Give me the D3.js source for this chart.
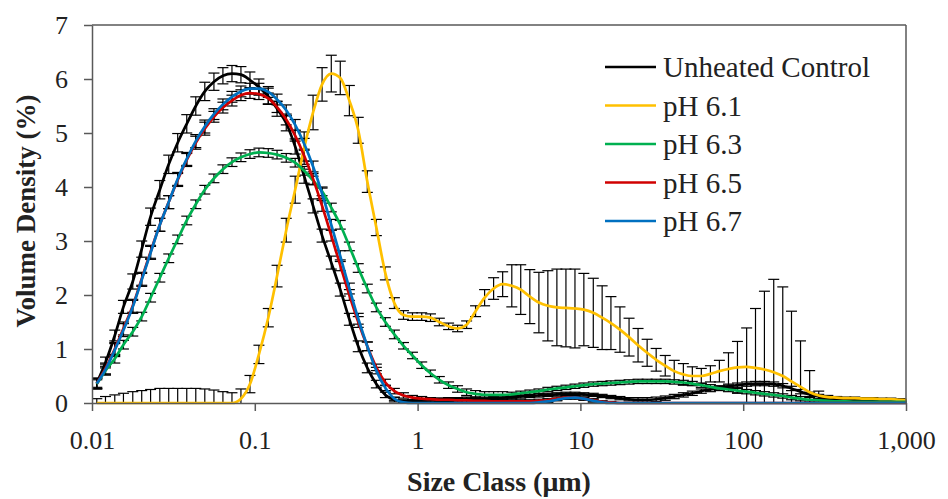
<!DOCTYPE html>
<meta charset="utf-8">
<head>
    <title>Volume Density by Size Class</title>
    <script type="text/javascript" src="https://d3js.org/d3.v7.min.js"></script>
    <style type="text/css">
        body { margin: 0; background: #ffffff; }
        svg text { font-family: "Liberation Serif", "Times New Roman", serif; fill: #222222; }
    </style>
</head>
<body>
    <div id="chart"></div>
    <script>
        // size classes (um), class midpoints
        var sizes = [0.0107,0.0121,0.0138,0.0156,0.0178,0.0202,0.0229,0.0261,0.0296,0.0336,
            0.0382,0.0434,0.0493,0.0561,0.0637,0.0724,0.0822,0.0934,0.106,0.121,
            0.137,0.156,0.177,0.201,0.228,0.259,0.295,0.335,0.381,0.432,
            0.491,0.558,0.634,0.720,0.819,0.930,1.06,1.20,1.36,1.55,
            1.76,2.00,2.27,2.58,2.93,3.33,3.79,4.30,4.89,5.56,
            6.31,7.17,8.15,9.26,10.5,12.0,13.6,15.4,17.5,19.9,
            22.6,25.7,29.2,33.2,37.7,42.9,48.7,55.3,62.9,71.4,
            81.2,92.2,105,119,135,154,175,198,225,256,
            291,331,376,427,485,551,626,711,808,918,1043];

        var seriesNames = ["Unheated Control", "pH 6.1", "pH 6.3", "pH 6.5", "pH 6.7"];
        var seriesColors = ["#000000", "#FFC000", "#00B050", "#D00000", "#0070C0"];

        var control = [0.37,0.75,1.25,1.78,2.25,2.85,3.45,3.95,4.42,4.82,
            5.17,5.5,5.77,5.95,6.06,6.1,6.08,5.98,5.85,5.68,
            5.45,5.18,4.75,4.2,3.65,3.1,2.6,2.1,1.55,1.05,
            0.65,0.35,0.15,0.06,0.03,0.03,0.04,0.05,0.06,0.07,
            0.07,0.08,0.08,0.08,0.09,0.1,0.11,0.12,0.13,0.14,
            0.15,0.16,0.17,0.17,0.16,0.15,0.13,0.11,0.09,0.07,
            0.06,0.06,0.07,0.09,0.12,0.15,0.18,0.22,0.25,0.28,
            0.31,0.33,0.35,0.36,0.36,0.35,0.32,0.27,0.21,0.16,
            0.12,0.09,0.07,0.05,0.04,0.03,0.02,0.02,0.01,0.01,0.01];
        var controlErr = [0.08,0.1,0.1,0.12,0.14,0.15,0.16,0.17,0.17,0.17,
            0.17,0.17,0.17,0.16,0.15,0.15,0.15,0.15,0.15,0.15,
            0.14,0.14,0.14,0.13,0.13,0.12,0.12,0.12,0.11,0.1,
            0.09,0.07,0.05,0.04,0.03,0.03,0.03,0.03,0.03,0.03,
            0.03,0.03,0.03,0.03,0.03,0.03,0.03,0.03,0.03,0.03,
            0.03,0.03,0.03,0.03,0.03,0.03,0.03,0.03,0.03,0.03,
            0.04,0.04,0.04,0.04,0.04,0.04,0.04,0.04,0.04,0.04,
            0.04,0.04,0.04,0.04,0.04,0.04,0.04,0.04,0.04,0.04,
            0.04,0.02,0.02,0.02,0.02,0.02,0.02,0.02,0.02,0.02,0.02];

        var ph61 = [0,0,0,0,0,0,0,0,0,0,
            0,0,0,0,0,0,0.08,0.35,0.9,1.58,
            2.35,3.2,3.95,4.72,5.38,5.9,6.1,6.02,5.6,5.05,
            4.1,3.25,2.4,1.85,1.63,1.6,1.6,1.58,1.5,1.42,
            1.38,1.45,1.7,1.95,2.12,2.2,2.17,2.1,1.97,1.86,
            1.8,1.77,1.76,1.75,1.73,1.67,1.58,1.48,1.36,1.22,
            1.07,0.93,0.8,0.69,0.59,0.53,0.5,0.5,0.54,0.59,
            0.63,0.66,0.67,0.65,0.62,0.57,0.5,0.4,0.3,0.2,
            0.14,0.11,0.1,0.09,0.09,0.08,0.08,0.07,0.07,0.06,0.05];
        var ph61Err = [0.08,0.12,0.15,0.18,0.21,0.23,0.25,0.27,0.27,0.27,
            0.27,0.27,0.26,0.24,0.21,0.19,0.18,0.16,0.17,0.17,
            0.2,0.22,0.25,0.3,0.32,0.31,0.34,0.31,0.28,0.24,
            0.2,0.15,0.12,0.1,0.08,0.07,0.07,0.07,0.07,0.06,
            0.06,0.07,0.1,0.15,0.2,0.23,0.39,0.46,0.5,0.56,
            0.65,0.71,0.72,0.73,0.67,0.64,0.59,0.49,0.42,0.35,
            0.31,0.25,0.21,0.19,0.2,0.2,0.17,0.14,0.15,0.2,
            0.3,0.48,0.72,1.1,1.45,1.72,1.65,1.3,0.85,0.4,
            0.08,0.03,0.02,0.02,0.02,0.02,0.02,0.02,0.02,0.02,0.02];

        var ph63 = [0.35,0.6,0.82,1.08,1.32,1.6,1.95,2.32,2.68,3.03,
            3.38,3.68,3.95,4.16,4.33,4.46,4.55,4.61,4.64,4.63,
            4.6,4.54,4.45,4.3,4.12,3.92,3.62,3.3,2.9,2.5,
            2.12,1.77,1.5,1.27,1.06,0.88,0.7,0.55,0.43,0.33,
            0.26,0.2,0.17,0.15,0.15,0.15,0.16,0.18,0.2,0.22,
            0.25,0.27,0.29,0.31,0.33,0.35,0.36,0.37,0.38,0.39,
            0.4,0.4,0.4,0.4,0.39,0.38,0.36,0.33,0.3,0.27,
            0.25,0.23,0.21,0.19,0.17,0.15,0.13,0.1,0.08,0.06,
            0.05,0.04,0.03,0.03,0.02,0.02,0.02,0.02,0.02,0.02,0.02];
        var ph63Err = [0.08,0.08,0.08,0.08,0.08,0.08,0.08,0.08,0.08,0.08,
            0.08,0.08,0.08,0.08,0.08,0.08,0.08,0.08,0.08,0.08,
            0.08,0.08,0.08,0.08,0.08,0.08,0.08,0.08,0.08,0.08,
            0.08,0.08,0.08,0.08,0.06,0.06,0.06,0.06,0.06,0.06,
            0.06,0.06,0.06,0.06,0.06,0.06,0.04,0.04,0.04,0.04,
            0.04,0.04,0.04,0.04,0.04,0.04,0.04,0.04,0.04,0.04,
            0.04,0.04,0.04,0.04,0.04,0.04,0.04,0.04,0.04,0.04,
            0.04,0.04,0.04,0.04,0.04,0.04,0.04,0.04,0.04,0.04,
            0.03,0.03,0.03,0.03,0.02,0.02,0.02,0.02,0.02,0.02,0.02];

        var ph65 = [0.36,0.64,1.0,1.38,1.8,2.3,2.8,3.3,3.72,4.13,
            4.5,4.82,5.08,5.3,5.47,5.6,5.7,5.74,5.72,5.64,
            5.48,5.25,4.95,4.58,4.15,3.65,3.1,2.55,2.0,1.5,
            1.05,0.66,0.38,0.22,0.14,0.1,0.08,0.07,0.06,0.06,
            0.05,0.05,0.04,0.04,0.03,0.03,0.03,0.03,0.03,0.04,
            0.05,0.08,0.1,0.1,0.08,0.05,0.02,0.01,0,0,
            0,0,0,0,0,0,0,0,0,0,
            0,0,0,0,0,0,0,0,0,0,
            0,0,0,0,0,0,0,0,0,0,0];
        var ph65Err = [0.1,0.1,0.12,0.12,0.12,0.12,0.12,0.12,0.12,0.12,
            0.12,0.12,0.12,0.1,0.1,0.1,0.1,0.1,0.1,0.1,
            0.1,0.1,0.1,0.1,0.1,0.1,0.1,0.1,0.1,0.1,
            0.08,0.06,0.06,0.05,0.05,0.04,0.04,0.03,0.03,0.03,
            0.03,0.03,0.03,0.03,0.03,0.03,0.03,0.03,0.03,0.03,
            0.03,0.03,0.03,0.03,0.03,0.03,0.02,0.02,0,0,
            0,0,0,0,0,0,0,0,0,0,
            0,0,0,0,0,0,0,0,0,0,
            0,0,0,0,0,0,0,0,0,0,0];

        var ph67 = [0.36,0.62,0.98,1.35,1.78,2.28,2.78,3.3,3.72,4.15,
            4.52,4.85,5.12,5.35,5.53,5.67,5.77,5.82,5.82,5.76,
            5.62,5.42,5.15,4.8,4.38,3.88,3.3,2.72,2.12,1.56,
            1.05,0.6,0.28,0.08,0.01,0,0,0,0,0,
            0,0,0,0,0,0,0,0,0,0.01,
            0.03,0.06,0.09,0.1,0.08,0.04,0.01,0,0,0,
            0,0,0,0,0,0,0,0,0,0,
            0,0,0,0,0,0,0,0,0,0,
            0,0,0,0,0,0,0,0,0,0,0];
        var ph67Err = [0.1,0.1,0.12,0.12,0.12,0.12,0.12,0.12,0.12,0.12,
            0.12,0.12,0.12,0.1,0.1,0.1,0.1,0.1,0.1,0.1,
            0.1,0.1,0.1,0.1,0.1,0.1,0.1,0.1,0.1,0.1,
            0.08,0.06,0.05,0.03,0.02,0,0,0,0,0,
            0,0,0,0,0,0,0,0,0,0.02,
            0.02,0.02,0.02,0.02,0.02,0.02,0.02,0,0,0,
            0,0,0,0,0,0,0,0,0,0,
            0,0,0,0,0,0,0,0,0,0,
            0,0,0,0,0,0,0,0,0,0,0];

        var yTicks = [0, 1, 2, 3, 4, 5, 6, 7];
        var xTicks = [0.01, 0.1, 1, 10, 100, 1000];
        var xTickLabels = ["0.01", "0.1", "1", "10", "100", "1,000"];

        var values = [control, ph61, ph63, ph65, ph67];
        var errors = [controlErr, ph61Err, ph63Err, ph65Err, ph67Err];

        var width = 948;
        var height = 499;
        var margin = {top: 25, right: 42, bottom: 96, left: 92};
        var axisColor = "#595959";

        var svg = d3.select("#chart")
            .append("svg")
            .attr("width", width)
            .attr("height", height);

        var x = d3.scaleLog()
            .domain([0.01, 1000])
            .range([margin.left, width - margin.right]);
        var y = d3.scaleLinear()
            .domain([0, 7])
            .range([height - margin.bottom, margin.top]);

        svg.append("clipPath").attr("id", "plotClip")
            .append("rect")
            .attr("x", x(0.01))
            .attr("y", y(7))
            .attr("width", x(1000) - x(0.01))
            .attr("height", y(0) - y(7));
        svg.append("clipPath").attr("id", "lineClip")
            .append("rect")
            .attr("x", x(0.01))
            .attr("y", y(7))
            .attr("width", x(1000) - x(0.01) + 1)
            .attr("height", y(0) - y(7) + 3);

        // error bars first, lines on top
        var errG = svg.append("g").attr("clip-path", "url(#plotClip)");
        var capHalf = 5.5;
        values.forEach(function(vals, s) {
            vals.forEach(function(v, i) {
                var e = errors[s][i];
                if (e <= 0) return;
                var lo = v - e, hi = v + e;
                var cx = x(sizes[i]);
                errG.append("line")
                    .attr("x1", cx).attr("x2", cx)
                    .attr("y1", y(Math.max(lo, 0))).attr("y2", y(hi))
                    .attr("stroke", "#000").attr("stroke-width", 1.2);
                errG.append("line")
                    .attr("x1", cx - capHalf).attr("x2", cx + capHalf)
                    .attr("y1", y(hi)).attr("y2", y(hi))
                    .attr("stroke", "#000").attr("stroke-width", 1.2);
                if (lo >= 0) {
                    errG.append("line")
                        .attr("x1", cx - capHalf).attr("x2", cx + capHalf)
                        .attr("y1", y(lo)).attr("y2", y(lo))
                        .attr("stroke", "#000").attr("stroke-width", 1.2);
                }
            });
        });

        var line = d3.line()
            .x(function(d, i) { return x(sizes[i]); })
            .y(function(d) { return y(d); })
            .curve(d3.curveMonotoneX);

        var lineG = svg.append("g").attr("clip-path", "url(#lineClip)");
        values.forEach(function(vals, s) {
            lineG.append("path")
                .attr("d", line(vals))
                .attr("fill", "none")
                .attr("stroke", seriesColors[s])
                .attr("stroke-width", 2.7);
        });

        // plot frame
        svg.append("line")
            .attr("x1", x(0.01)).attr("x2", x(1000))
            .attr("y1", y(7)).attr("y2", y(7))
            .attr("stroke", axisColor).attr("stroke-width", 1.5);
        svg.append("line")
            .attr("x1", x(1000)).attr("x2", x(1000))
            .attr("y1", y(7)).attr("y2", y(0))
            .attr("stroke", axisColor).attr("stroke-width", 1.5);

        var yAxis = svg.append("g")
            .attr("transform", "translate(" + x(0.01) + ",0)")
            .call(d3.axisLeft(y).tickValues(yTicks).tickSize(8).tickSizeOuter(0).tickPadding(16).tickFormat(d3.format("d")));
        var xAxis = svg.append("g")
            .attr("transform", "translate(0," + y(0) + ")")
            .call(d3.axisBottom(x).tickValues(xTicks).tickSize(8).tickSizeOuter(0).tickPadding(20)
                .tickFormat(function(d, i) { return xTickLabels[i]; }));

        [yAxis, xAxis].forEach(function(g) {
            g.select(".domain").attr("stroke", axisColor).attr("stroke-width", 1.5);
            g.selectAll(".tick line").attr("stroke", axisColor).attr("stroke-width", 1.5);
            g.selectAll(".tick text")
                .attr("fill", "#222")
                .style("font-family", "'Liberation Serif', serif")
                .style("font-size", "26px");
        });

        // axis titles
        svg.append("text")
            .attr("x", (x(0.01) + x(1000)) / 2)
            .attr("y", 491)
            .attr("text-anchor", "middle")
            .style("font-size", "28px")
            .style("font-weight", "bold")
            .text("Size Class (\u03bcm)");
        svg.append("text")
            .attr("transform", "translate(35," + 211 + ") rotate(-90)")
            .attr("text-anchor", "middle")
            .style("font-size", "27px")
            .style("font-weight", "bold")
            .text("Volume Density (%)");

        // legend
        var legendTop = 67;
        var legendGap = 38.5;
        seriesNames.forEach(function(name, s) {
            var ly = legendTop + s * legendGap;
            svg.append("line")
                .attr("x1", 605).attr("x2", 656)
                .attr("y1", ly).attr("y2", ly)
                .attr("stroke", seriesColors[s])
                .attr("stroke-width", 2.7);
            svg.append("text")
                .attr("x", 663)
                .attr("y", ly + 10)
                .style("font-size", "29px")
                .text(name);
        });
    </script>
</body>
</html>
